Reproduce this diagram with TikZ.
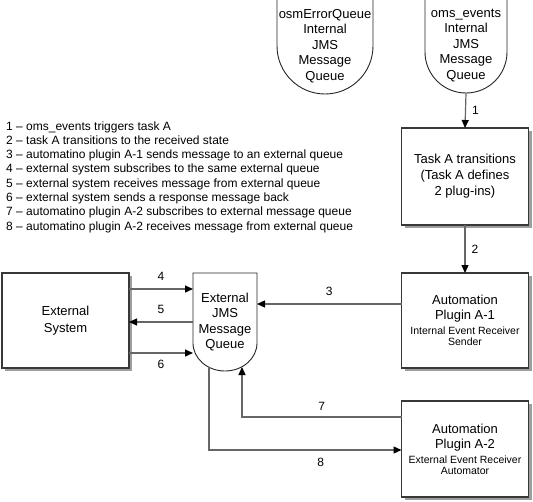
\documentclass[tikz,border=0pt]{standalone}
\usepackage{fontspec}
\setmainfont{Liberation Sans}
\usetikzlibrary{positioning,arrows.meta,backgrounds}

\tikzset{
  procbox/.style={draw=black!78, line width=1.2pt, fill=white, minimum width=127pt, minimum height=96pt,
    inner sep=2pt, outer sep=0pt, align=center, font=\fontsize{13}{16}\selectfont},
  boxshadow/.style={fill=black!38},
  queue/.style={inner sep=0pt, outer sep=0pt, align=center, font=\fontsize{13}{15.5}\selectfont},
  qline/.style={draw=black!85, line width=0.9pt},
  flow/.style={draw=black!60, line width=1.2pt, -{Triangle[length=8pt,width=7pt,color=black]}},
  num/.style={font=\fontsize{12}{14}\selectfont, inner sep=1pt},
  legend/.style={font=\fontsize{12}{14}\selectfont, anchor=west, inner sep=0pt, text height=8.6pt, text depth=2.6pt},
}
\newcommand\smalltext{\fontsize{10.5}{12}\selectfont}
\newcommand\queueoutline[3]{%
  \draw[qline] (#1.north west) -- ([yshift=#3]#1.south west)
    arc[start angle=180, end angle=360, x radius=#2, y radius=#3] -- (#1.north east) -- cycle;}
\newcommand\shadowof[1]{%
  \fill[boxshadow] ([shift={(3pt,-3pt)}]#1.south west) rectangle ([shift={(3pt,-3pt)}]#1.north east);}

\begin{document}
\begin{tikzpicture}[x=1pt,y=1pt]
  \useasboundingbox (0,0) rectangle (533,-501);

  \node[queue, minimum width=96pt, minimum height=96pt] (errq) at (325,-46)
    {osmErrorQueue\\Internal\\JMS\\Message\\Queue};
  \queueoutline{errq}{48pt}{48pt}
  \node[queue, minimum width=82pt, minimum height=95pt] (evq) at (466,-45.5)
    {oms\_events\\Internal\\JMS\\Message\\Queue};
  \queueoutline{evq}{41pt}{41pt}

  \node[procbox, minimum height=97pt] (taskA) at (465,-176.5)
    {Task A transitions\\(Task A defines\\2 plug-ins)};
  \node[procbox, minimum height=95pt] (plugA1) at (465,-320.5)
    {Automation\\[-1pt]Plugin A-1\\[-1pt]{\smalltext Internal Event Receiver}\\[-5pt]{\smalltext Sender}};
  \node[procbox, minimum height=96pt] (plugA2) at (465,-449)
    {Automation\\[-1pt]Plugin A-2\\[-1pt]{\smalltext External Event Receiver}\\[-5pt]{\smalltext Automator}};
  \node[procbox, minimum height=95pt] (extsys) at (65.5,-320.5)
    {External\\[1pt]System};

  \begin{scope}[on background layer]
    \fill[white] (0,0) rectangle (533,-501);
    \shadowof{taskA}
    \shadowof{plugA1}
    \shadowof{plugA2}
    \shadowof{extsys}
  \end{scope}

  \node[queue, minimum width=64pt, minimum height=98pt] (extq) at (225,-322)
    {External\\JMS\\Message\\Queue};
  \queueoutline{extq}{32pt}{28pt}

  \coordinate (a3) at ([yshift=16.5pt]plugA1.west);
  \coordinate (a4) at ([yshift=31.5pt]extsys.east);
  \coordinate (a6) at ([yshift=-32.5pt]extsys.east);
  \coordinate (a7) at ([yshift=32pt]plugA2.west);
  \coordinate (a8) at ([yshift=-1pt]plugA2.west);
  \coordinate (q7) at ([xshift=17pt,yshift=4pt]extq.south);
  \coordinate (q8) at ([xshift=-16pt,yshift=4pt]extq.south);

  \draw[flow] (evq.south) -- node[num, right=5pt] {1} (taskA.north);
  \draw[flow] (taskA.south) -- node[num, right=5pt] {2} (plugA1.north);
  \draw[flow] (a3) -- node[num, above=7pt] {3} (a3 -| extq.east);
  \draw[flow] (a4) -- node[num, above=7pt] {4} (a4 -| extq.west);
  \draw[flow] (extq.west) -- node[num, above=7pt] {5} (extq.west -| extsys.east);
  \draw[flow] (a6) -- node[num, below=6pt] {6} (a6 -| extq.west);
  \draw[flow] (a7) -| node[num, above=5pt, pos=0.25] {7} (q7);
  \draw[flow] (q8) |- node[num, below=7pt, pos=0.79] {8} (a8);

  \node[legend] (l1) at (6,-127) {1 – oms\_events triggers task A};
  \node[below=14.3pt of l1.west, legend] (l2) {2 – task A transitions to the received state};
  \node[below=14.3pt of l2.west, legend] (l3) {3 – automatino plugin A-1 sends message to an external queue};
  \node[below=14.3pt of l3.west, legend] (l4) {4 – external system subscribes to the same external queue};
  \node[below=14.3pt of l4.west, legend] (l5) {5 – external system receives message from external queue};
  \node[below=14.3pt of l5.west, legend] (l6) {6 – external system sends a response message back};
  \node[below=14.3pt of l6.west, legend] (l7) {7 – automatino plugin A-2 subscribes to external message queue};
  \node[below=14.3pt of l7.west, legend] (l8) {8 – automatino plugin A-2 receives message from external queue};
\end{tikzpicture}
\end{document}
